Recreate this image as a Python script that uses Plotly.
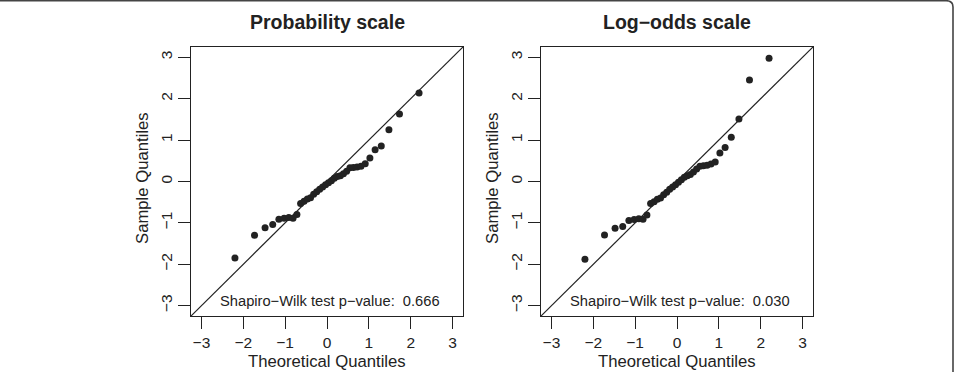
import plotly.graph_objects as go

# Theoretical normal quantiles (n = 36)
theoretical = [-2.200, -1.732, -1.480, -1.297, -1.150, -1.025, -0.913, -0.812, -0.719,
               -0.631, -0.548, -0.469, -0.393, -0.319, -0.246, -0.175, -0.105, -0.035,
               0.035, 0.105, 0.175, 0.246, 0.319, 0.393, 0.469, 0.548, 0.631,
               0.719, 0.812, 0.913, 1.025, 1.150, 1.297, 1.480, 1.732, 2.200]

prob_sample = [-1.85, -1.30, -1.12, -1.04, -0.91, -0.89, -0.87, -0.89, -0.80,
               -0.53, -0.48, -0.42, -0.39, -0.31, -0.25, -0.19, -0.13, -0.08,
               -0.03, 0.02, 0.08, 0.12, 0.14, 0.19, 0.25, 0.33, 0.34,
               0.35, 0.37, 0.43, 0.57, 0.77, 0.86, 1.25, 1.63, 2.14]

logodds_sample = [-1.88, -1.29, -1.13, -1.09, -0.94, -0.92, -0.90, -0.91, -0.81,
                  -0.53, -0.49, -0.43, -0.40, -0.32, -0.26, -0.19, -0.13, -0.08,
                  -0.02, 0.04, 0.10, 0.14, 0.17, 0.23, 0.30, 0.37, 0.38,
                  0.39, 0.42, 0.47, 0.69, 0.82, 1.07, 1.51, 2.45, 2.98]

panel_titles = ["Probability scale", "Log\u2212odds scale"]
pvalue_labels = ["Shapiro\u2212Wilk test p\u2212value:  0.666",
                 "Shapiro\u2212Wilk test p\u2212value:  0.030"]
tick_vals = [-3, -2, -1, 0, 1, 2, 3]
axis_range = [-3.25, 3.25]

W, H = 957, 372
FONT = "Liberation Sans, Arial, Helvetica, sans-serif"
INK = "#222222"

fig = go.Figure()

x_domains = [[191 / W, 463 / W], [541 / W, 813 / W]]
y_domain = [1 - 316 / H, 1 - 47 / H]
samples = [prob_sample, logodds_sample]

for k in range(2):
    xa = "x" if k == 0 else "x2"
    ya = "y" if k == 0 else "y2"
    # identity reference line across the axis range
    fig.add_trace(go.Scatter(x=axis_range, y=axis_range, mode="lines",
                             line=dict(color=INK, width=1.2),
                             xaxis=xa, yaxis=ya, showlegend=False, hoverinfo="skip"))
    fig.add_trace(go.Scatter(x=theoretical, y=samples[k], mode="markers",
                             marker=dict(color=INK, size=7, line=dict(width=0)),
                             xaxis=xa, yaxis=ya, showlegend=False))

axis_common = dict(range=axis_range, tickvals=tick_vals, ticks="outside", ticklen=12,
                   tickwidth=1, tickcolor=INK, showline=True, linecolor=INK, linewidth=1,
                   mirror=True, showgrid=False, zeroline=False,
                   tickfont=dict(family=FONT, size=15.5, color=INK))

fig.update_layout(
    width=W, height=H,
    margin=dict(l=0, r=0, t=0, b=0),
    paper_bgcolor="white", plot_bgcolor="white",
    xaxis=dict(domain=x_domains[0], anchor="y", **axis_common),
    yaxis=dict(domain=y_domain, anchor="x", tickangle=-90, **axis_common),
    xaxis2=dict(domain=x_domains[1], anchor="y2", **axis_common),
    yaxis2=dict(domain=y_domain, anchor="x2", tickangle=-90, **axis_common),
)

annotations = []
for k in range(2):
    cx = (x_domains[k][0] + x_domains[k][1]) / 2
    annotations.append(dict(text="<b>" + panel_titles[k] + "</b>", x=cx, y=1 - 22 / H,
                            xref="paper", yref="paper", showarrow=False,
                            xanchor="center", yanchor="middle",
                            font=dict(family=FONT, size=19.5, color=INK)))
    annotations.append(dict(text="Theoretical Quantiles", x=cx, y=1 - 361 / H,
                            xref="paper", yref="paper", showarrow=False,
                            xanchor="center", yanchor="middle",
                            font=dict(family=FONT, size=16.7, color=INK)))
    annotations.append(dict(text="Sample Quantiles", x=x_domains[k][0] - 49 / W,
                            y=1 - 178 / H,
                            xref="paper", yref="paper", showarrow=False, textangle=-90,
                            xanchor="center", yanchor="middle",
                            font=dict(family=FONT, size=16.7, color=INK)))
    annotations.append(dict(text=pvalue_labels[k], x=cx + 3 / W, y=1 - 301 / H,
                            xref="paper", yref="paper", showarrow=False,
                            xanchor="center", yanchor="middle",
                            font=dict(family=FONT, size=14.7, color=INK)))
fig.update_layout(annotations=annotations)

# outer figure frame (top edge and right edge with rounded corner)
x_end = 946 / W
x_right = 953 / W
y_top = 1 - 0.7 / H
y_corner = 1 - 7 / H
frame_path = (f"M 0,{y_top} L {x_end},{y_top} Q {x_right},{y_top} {x_right},{y_corner} "
              f"L {x_right},0")
fig.add_shape(type="path", path=frame_path, xref="paper", yref="paper",
              line=dict(color="#444444", width=1.6))

fig.write_html("out.html")
